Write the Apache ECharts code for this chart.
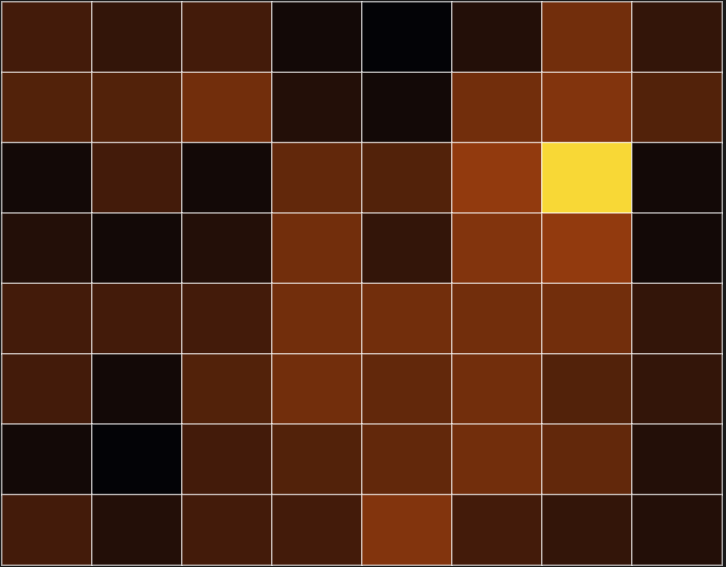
<!DOCTYPE html>
<html>
<head>
<meta charset="utf-8">
<script src="https://cdn.jsdelivr.net/npm/echarts@6/dist/echarts.min.js"></script>
<style>
html,body{margin:0;padding:0;background:#1a1a1a;}
#chart{width:726px;height:567px;}
</style>
</head>
<body>
<div id="chart"></div>
<script>
// Column and row categories
var columns = ['C1','C2','C3','C4','C5','C6','C7','C8'];
var rows = ['R1','R2','R3','R4','R5','R6','R7','R8'];

// Cell values, one array per row (top to bottom)
var row1 = [4, 3, 4, 1, 0, 2, 7, 3];
var row2 = [5, 5, 7, 2, 1, 7, 8, 5];
var row3 = [1, 4, 1, 6, 5, 9, 18, 1];
var row4 = [2, 1, 2, 7, 3, 8, 9, 1];
var row5 = [4, 4, 4, 7, 7, 7, 7, 3];
var row6 = [4, 1, 5, 7, 6, 7, 5, 3];
var row7 = [1, 0, 4, 5, 6, 7, 6, 2];
var row8 = [4, 2, 4, 4, 8, 4, 3, 2];

var rowValues = [row1, row2, row3, row4, row5, row6, row7, row8];
var data = [];
rowValues.forEach(function (r, ri) {
  r.forEach(function (v, ci) { data.push([ci, ri, v]); });
});

var chart = echarts.init(document.getElementById('chart'), null, {renderer: 'canvas'});
chart.setOption({
  backgroundColor: '#1a1a1a',
  animation: false,
  grid: {left: 2, right: 4, top: 2, bottom: 2, containLabel: false},
  xAxis: {type: 'category', data: columns, show: false},
  yAxis: {type: 'category', data: rows, inverse: true, show: false},
  visualMap: {
    show: false, min: 0, max: 18,
    inRange: {color: ['#030306', '#923a0e', '#f8d836']}
  },
  series: [{
    type: 'heatmap',
    data: data,
    itemStyle: {borderColor: 'rgba(255,255,255,0.6)', borderWidth: 1.5},
    emphasis: {disabled: true}
  }]
});
</script>
</body>
</html>
